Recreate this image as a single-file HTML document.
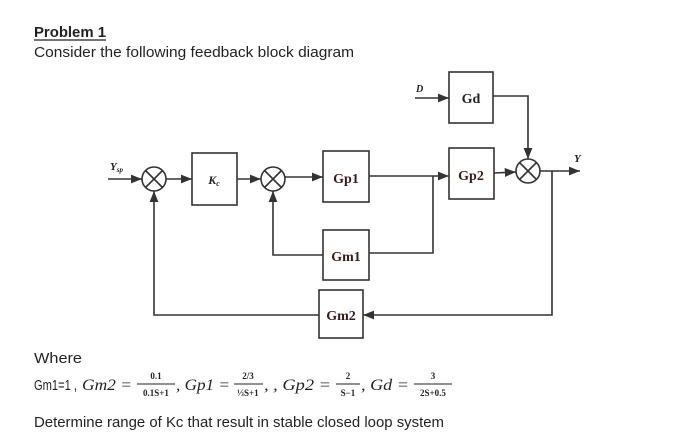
<!DOCTYPE html>
<html><head><meta charset="utf-8"><style>
html,body{margin:0;padding:0;background:#fff;}
svg{display:block;}
</style></head><body>
<svg width="700" height="445" viewBox="0 0 700 445" xmlns="http://www.w3.org/2000/svg">
<defs>
<marker id="a" viewBox="0 0 10 10" refX="10" refY="5" markerWidth="7" markerHeight="7" orient="auto-start-reverse"><path d="M0,1 L10,5 L0,9 Z" fill="#333"/></marker>
</defs>
<rect width="700" height="445" fill="#fff"/>
<g font-family="Liberation Sans, sans-serif" fill="#222">
<text x="34" y="37" font-size="15" font-weight="bold" textLength="72" lengthAdjust="spacingAndGlyphs">Problem 1</text>
<line x1="34" y1="40" x2="106" y2="40" stroke="#222" stroke-width="1.2"/>
<text x="34" y="57" font-size="15" textLength="320" lengthAdjust="spacingAndGlyphs">Consider the following feedback block diagram</text>
<text x="34" y="363" font-size="15" textLength="48" lengthAdjust="spacingAndGlyphs">Where</text>
<text x="34" y="427" font-size="15" textLength="410" lengthAdjust="spacingAndGlyphs">Determine range of Kc that result in stable closed loop system</text>
</g>
<!-- formula -->
<g font-family="Liberation Serif, serif" fill="#222" font-size="16">
<text x="34" y="390" font-family="Liberation Sans, sans-serif" font-size="15" textLength="43" lengthAdjust="spacingAndGlyphs">Gm1=1 ,</text>
<text x="82" y="390" font-style="italic" textLength="50" lengthAdjust="spacingAndGlyphs">Gm2 =</text>
<text x="156" y="379" font-size="9" font-weight="bold" text-anchor="middle">0.1</text>
<line x1="137" y1="384" x2="175" y2="384" stroke="#222" stroke-width="1"/>
<text x="156" y="396" font-size="9" font-weight="bold" text-anchor="middle">0.1S+1</text>
<text x="176" y="390" font-style="italic" textLength="54" lengthAdjust="spacingAndGlyphs">, Gp1 =</text>
<text x="248" y="379" font-size="9" font-weight="bold" text-anchor="middle">2/3</text>
<line x1="234" y1="384" x2="263" y2="384" stroke="#222" stroke-width="1"/>
<text x="248" y="396" font-size="9" font-weight="bold" text-anchor="middle">⅓S+1</text>
<text x="264" y="390" font-style="italic" textLength="67" lengthAdjust="spacingAndGlyphs">, , Gp2 =</text>
<text x="348" y="379" font-size="9" font-weight="bold" text-anchor="middle">2</text>
<line x1="336" y1="384" x2="360" y2="384" stroke="#222" stroke-width="1"/>
<text x="348" y="396" font-size="9" font-weight="bold" text-anchor="middle">S−1</text>
<text x="361" y="390" font-style="italic" textLength="48" lengthAdjust="spacingAndGlyphs">, Gd =</text>
<text x="433" y="379" font-size="9" font-weight="bold" text-anchor="middle">3</text>
<line x1="414" y1="384" x2="452" y2="384" stroke="#222" stroke-width="1"/>
<text x="433" y="396" font-size="9" font-weight="bold" text-anchor="middle">2S+0.5</text>
</g>
<!-- diagram -->
<g stroke="#333" stroke-width="1.6" fill="none">
<rect x="192" y="153" width="45" height="52"/>
<rect x="323" y="151" width="46" height="51"/>
<rect x="449" y="148" width="45" height="51"/>
<rect x="449" y="72" width="44" height="51"/>
<rect x="323" y="230" width="46" height="50"/>
<rect x="319" y="290" width="44" height="48"/>
<circle cx="154" cy="179" r="12"/>
<circle cx="273" cy="179" r="12"/>
<circle cx="528" cy="171" r="12"/>
<path d="M145.5,170.5 L162.5,187.5 M162.5,170.5 L145.5,187.5"/>
<path d="M264.5,170.5 L281.5,187.5 M281.5,170.5 L264.5,187.5"/>
<path d="M519.5,162.5 L536.5,179.5 M536.5,162.5 L519.5,179.5"/>
<line x1="108" y1="179" x2="142" y2="179" marker-end="url(#a)"/>
<line x1="166" y1="179" x2="192" y2="179" marker-end="url(#a)"/>
<line x1="237" y1="179" x2="261" y2="179" marker-end="url(#a)"/>
<line x1="285" y1="177" x2="323" y2="177" marker-end="url(#a)"/>
<line x1="369" y1="176" x2="449" y2="176" marker-end="url(#a)"/>
<line x1="494" y1="173" x2="516" y2="172" marker-end="url(#a)"/>
<line x1="540" y1="171" x2="580" y2="171" marker-end="url(#a)"/>
<polyline points="433,176 433,253 369,253"/>
<polyline points="323,255 273,255 273,191" marker-end="url(#a)"/>
<polyline points="552,171 552,315 363,315" marker-end="url(#a)"/>
<polyline points="319,315 154,315 154,191" marker-end="url(#a)"/>
<polyline points="493,96 528,96 528,159" marker-end="url(#a)"/>
<line x1="415" y1="98" x2="449" y2="98" marker-end="url(#a)"/>
</g>
<g font-family="Liberation Serif, serif" font-weight="bold" fill="#222">
<text x="346" y="183" font-size="14" text-anchor="middle" fill="#3a1a1a">Gp1</text>
<text x="471" y="180" font-size="14" text-anchor="middle" fill="#3a1a1a">Gp2</text>
<text x="471" y="103" font-size="14" text-anchor="middle">Gd</text>
<text x="346" y="261" font-size="14" text-anchor="middle" fill="#3a1a1a">Gm1</text>
<text x="341" y="320" font-size="14" text-anchor="middle" fill="#3a1a1a">Gm2</text>
<text x="214" y="184" font-size="12" font-style="italic" text-anchor="middle">K<tspan font-size="8" dy="2">c</tspan></text>
<text x="110" y="170" font-size="11" font-style="italic">Y<tspan font-size="7" dy="2">sp</tspan></text>
<text x="574" y="162" font-size="11" font-style="italic">Y</text>
<text x="416" y="92" font-size="10" font-style="italic">D</text>
</g>
</svg>
</body></html>
